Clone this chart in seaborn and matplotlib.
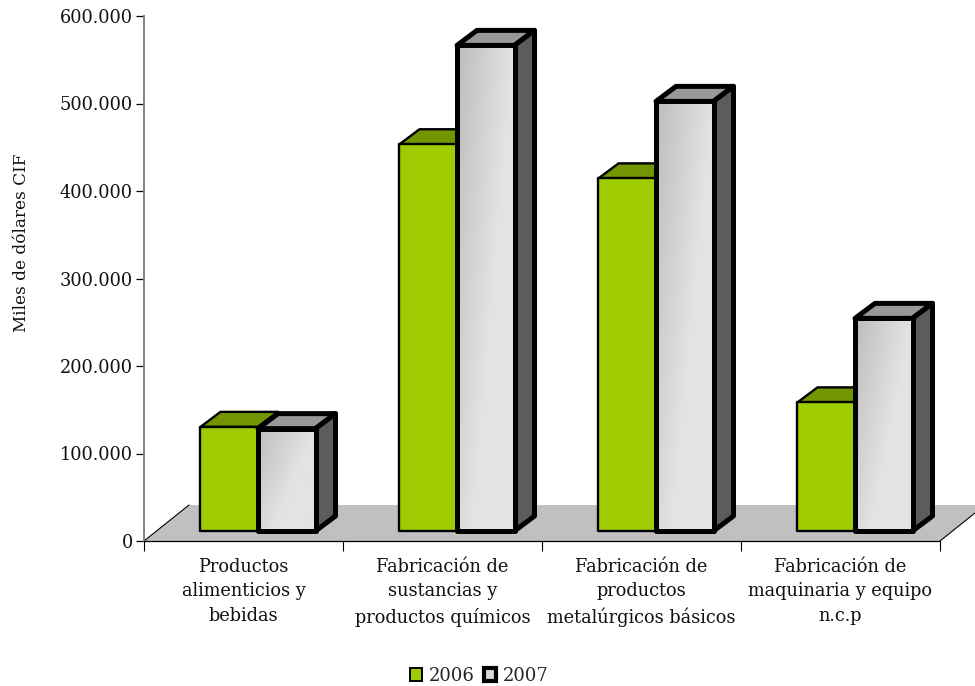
import numpy as np
import pandas as pd
import matplotlib
matplotlib.use("Agg")
import matplotlib.pyplot as plt
from matplotlib.patches import Polygon
from matplotlib.ticker import FuncFormatter
from matplotlib.transforms import Affine2D
import seaborn as sns

categories = [
    "Productos\nalimenticios y\nbebidas",
    "Fabricación de\nsustancias y\nproductos químicos",
    "Fabricación de\nproductos\nmetalúrgicos básicos",
    "Fabricación de\nmaquinaria y equipo\nn.c.p",
]
values_2006 = [119000, 442000, 403000, 147000]
values_2007 = [117000, 555000, 491000, 243000]
years = ["2006", "2007"]

W, H = 975, 686
GREEN, GREEN_TOP, GREEN_SIDE = "#9ecc00", "#739600", "#5f7d00"
GREY_TOP, GREY_SIDE = "#989898", "#5c5c5c"

sns.set_theme(style="white")
plt.rcParams["font.family"] = ["DejaVu Serif"]

data = pd.DataFrame({
    "cat": categories * 2,
    "year": [years[0]] * 4 + [years[1]] * 4,
    "value": values_2006 + values_2007,
})

fig = plt.figure(figsize=(W / 100, H / 100), dpi=100)
ax = fig.add_axes([144 / W, 1 - 541 / H, (940 - 144) / W, (541 - 16) / H])

sns.barplot(data=data, x="cat", y="value", hue="year", palette=[GREEN, "#d8d8d8"],
            width=0.578, saturation=1, ax=ax, zorder=5)

ax.set_ylim(0, 600000)
ax.set_xlim(-0.5, 3.5)
unit_x = 199.0          # px per category
unit_y = 87.5 / 100000  # px per value

# floor
fx, fy = 45 / unit_x, 36 / unit_y
floor = Polygon([(-0.5, 0), (3.5, 0), (3.5 + fx, fy), (-0.5 + fx, fy)], closed=True,
                facecolor="#c0c0c0", edgecolor="none", clip_on=False, zorder=1)
ax.add_patch(floor)
ax.plot([-0.5, -0.5 + fx], [0, fy], color="black", lw=0.8, clip_on=False, zorder=2)
ax.plot([3.5, 3.5 + fx], [0, fy], color="black", lw=0.8, clip_on=False, zorder=2)

# bars stand a bit back on the floor
shift = Affine2D().translate(14.5, 10)
tr = ax.transData + shift
dx, dy = 20 / unit_x, 15 / unit_y

n = len(categories)
for i, bar in enumerate(ax.patches[:2 * n]):
    second = i >= n
    x0, w, h = bar.get_x(), bar.get_width(), bar.get_height()
    x1 = x0 + w
    lw = 3.6 if second else 1.7
    z = 10 + (i % n) * 10 + (5 if second else 0)
    top = GREY_TOP if second else GREEN_TOP
    side = GREY_SIDE if second else GREEN_SIDE
    for pts, col in [
        ([(x0, h), (x1, h), (x1 + dx, h + dy), (x0 + dx, h + dy)], top),
        ([(x1, 0), (x1 + dx, dy), (x1 + dx, h + dy), (x1, h)], side),
    ]:
        ax.add_patch(Polygon(pts, closed=True, facecolor=col, edgecolor="black", lw=lw,
                             joinstyle="round", transform=tr, clip_on=False, zorder=z))
    if second:
        # light sheen on the front face
        uu, vv = np.meshgrid(np.linspace(0, 1, 60), np.linspace(0, 1, 120))
        shade = np.clip(0.74 + 0.15 * uu + 0.11 * vv, 0, 0.89)
        im = ax.imshow(shade, cmap="gray", vmin=0, vmax=1, aspect="auto",
                       extent=(x0, x1, 0, h), origin="upper", interpolation="bilinear",
                       zorder=z + 0.5, clip_on=False)
        im.set_transform(tr)
        bar.set_facecolor("none")
    bar.set_transform(tr)
    bar.set_edgecolor("black")
    bar.set_linewidth(lw)
    bar.set_joinstyle("round")
    bar.set_clip_on(False)
    bar.set_zorder(z + 1)

ax.set_xlim(-0.5, 3.5)
ax.set_ylim(0, 600000)

ax.set_xlabel("")
ax.set_ylabel("Miles de dólares CIF", fontsize=12.2, color="#111111", labelpad=0)
ax.yaxis.set_label_coords((30 - 144) / (940 - 144), (541 - 243) / (541 - 16))
ax.yaxis.set_major_locator(plt.MultipleLocator(100000))
ax.yaxis.set_major_formatter(FuncFormatter(lambda v, p: f"{int(v):,}".replace(",", ".")))
ax.tick_params(axis="y", left=True, length=6, width=0.9, color="black", labelsize=12.8,
               labelcolor="#111111", pad=2)

# ticks sit between categories, labels under the middle
ax.set_xticks(np.arange(-0.5, 4, 1), minor=True)
ax.tick_params(axis="x", which="minor", bottom=True, length=7, width=0.8, color="black")
ax.tick_params(axis="x", which="major", bottom=False, length=0, pad=12, labelsize=12.8,
               labelcolor="#111111")
for lab in ax.get_xticklabels():
    lab.set_linespacing(1.48)

for s in ["top", "right"]:
    ax.spines[s].set_visible(False)
ax.spines["left"].set_color("#808080")
ax.spines["left"].set_linewidth(1.4)
ax.spines["left"].set_zorder(3)
ax.spines["bottom"].set_color("black")
ax.spines["bottom"].set_linewidth(0.9)
ax.spines["bottom"].set_zorder(3)

sns.move_legend(ax, "center", bbox_to_anchor=(479 / W, 1 - 676 / H),
                bbox_transform=fig.transFigure, ncol=2, frameon=False, title=None,
                fontsize=13, handlelength=0.7, handleheight=0.7, handletextpad=0.35,
                columnspacing=0.5)
leg = ax.get_legend()
for patch, c, lw in zip(leg.get_patches(), [GREEN, "#d8d8d8"], [1.4, 3.0]):
    patch.set_facecolor(c)
    patch.set_edgecolor("black")
    patch.set_linewidth(lw)

fig.savefig("out.png", dpi=100)
plt.close("all")
